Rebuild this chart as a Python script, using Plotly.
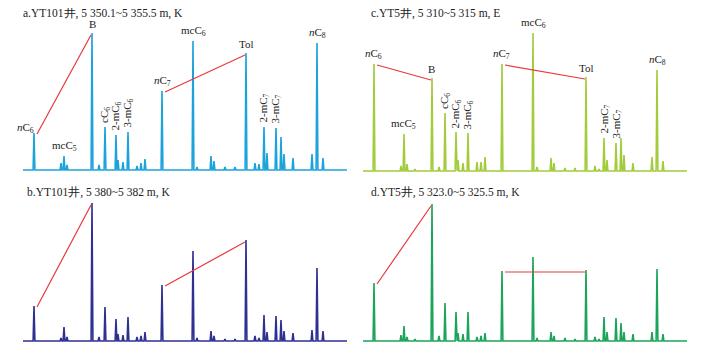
import plotly.graph_objects as go

# ---------------- data ----------------
# shared retention positions (relative units)
retention = [11, 38, 41, 44, 52, 69, 76, 82, 93, 95, 100, 105, 114, 118, 122,
             139, 170, 174, 188, 191, 202, 212, 223, 232, 236, 241, 244, 253,
             258, 261, 270, 289, 294, 300]

# relative abundance of each peak, per sample
height_a = [37, 7, 14, 5, 0, 137, 5, 43, 35, 10, 8, 38, 4, 7, 11,
            79, 129, 3, 14, 9, 3, 3, 117, 7, 6, 43, 17, 42, 33, 16, 12, 16, 127, 12]
height_b = [35, 3, 14, 4, 0, 138, 4, 34, 22, 7, 6, 24, 4, 5, 9,
            56, 90, 3, 10, 5, 2, 2, 101, 5, 3, 26, 9, 25, 21, 10, 8, 11, 73, 10]
height_c = [107, 5, 37, 7, 2, 93, 4, 58, 39, 11, 8, 38, 9, 9, 14,
            107, 138, 4, 13, 8, 3, 3, 94, 5, 2, 33, 11, 28, 33, 16, 8, 14, 101, 10]
height_d = [58, 6, 15, 4, 2, 137, 5, 38, 29, 8, 7, 29, 4, 5, 8,
            70, 84, 3, 9, 5, 3, 2, 71, 4, 2, 24, 9, 23, 18, 9, 7, 9, 72, 7]

panel_titles = ["a.YT101井, 5 350.1~5 355.5 m, K",
                "b.YT101井, 5 380~5 382 m, K",
                "c.YT5井, 5 310~5 315 m, E",
                "d.YT5井, 5 323.0~5 325.5 m, K"]

# labelled peaks: (index in retention list, label, rotated?)
peak_labels = [(0, "<i>n</i>C<sub>6</sub>", False),
               (2, "mcC<sub>5</sub>", False),
               (5, "B", False),
               (7, "cC<sub>6</sub>", True),
               (8, "2-mC<sub>6</sub>", True),
               (11, "3-mC<sub>6</sub>", True),
               (15, "<i>n</i>C<sub>7</sub>", False),
               (16, "mcC<sub>6</sub>", False),
               (22, "Tol", False),
               (25, "2-mC<sub>7</sub>", True),
               (27, "3-mC<sub>7</sub>", True),
               (32, "<i>n</i>C<sub>8</sub>", False)]

# ratio lines: nC6 -> B, nC7 -> Tol
ratio_pairs = [(0, 5), (15, 22)]

colors = ["#1ca3dc", "#2e3192", "#a3cc3d", "#1ba45a"]
red = "#e8383d"

OFF = 8  # page body margin
W, H = 708 - 2 * OFF, 357 - 2 * OFF
# panel frames in page pixels: (left, right, top, bottom)
frames = [(23, 347, 20, 172), (23, 347, 191, 343),
          (363, 687, 21, 173), (363, 687, 191, 343)]
heights = [height_a, height_b, height_c, height_d]
labelled = [True, False, True, False]
title_pos = [(21, 14), (25, 192), (369, 14), (369, 192)]

fig = go.Figure()
layout = dict(width=W, height=H, autosize=False,
              margin=dict(l=0, r=0, t=0, b=0),
              paper_bgcolor="white", plot_bgcolor="white",
              showlegend=False)
annotations = []
FONT = "Liberation Serif, Times New Roman, serif"
X_RANGE = [0, 324]
Y_RANGE = [-2, 150]
HALF_W = 0.9

for i, (fr, hts, col) in enumerate(zip(frames, heights, colors)):
    n = i + 1
    xa = "x" if n == 1 else f"x{n}"
    ya = "y" if n == 1 else f"y{n}"
    l, r, t, b = [v - OFF for v in fr]
    layout["xaxis" if n == 1 else f"xaxis{n}"] = dict(
        domain=[l / W, r / W], range=X_RANGE, visible=False, anchor=ya)
    layout["yaxis" if n == 1 else f"yaxis{n}"] = dict(
        domain=[(H - b) / H, (H - t) / H], range=Y_RANGE, visible=False, anchor=xa)
    # build spike trace from peaks
    xs, ys = [X_RANGE[0]], [0]
    for rt, h in zip(retention, hts):
        if h <= 0:
            continue
        xs += [rt - HALF_W, rt, rt + HALF_W]
        ys += [0, h, 0]
    xs.append(X_RANGE[1])
    ys.append(0)
    fig.add_trace(go.Scatter(x=xs, y=ys, mode="lines", xaxis=xa, yaxis=ya,
                             line=dict(color=col, width=1.6), hoverinfo="skip"))
    # ratio lines
    for p, q in ratio_pairs:
        fig.add_trace(go.Scatter(
            x=[retention[p] + 3, retention[q] - 1],
            y=[hts[p] - 1, hts[q] - 2], mode="lines", xaxis=xa, yaxis=ya,
            line=dict(color=red, width=1.2), hoverinfo="skip"))
    # title
    tx, ty = title_pos[i]
    annotations.append(dict(text=panel_titles[i], xref="paper", yref="paper",
                            x=(tx - OFF) / W, y=1 - (ty - OFF) / H,
                            xanchor="left", yanchor="middle",
                            showarrow=False, font=dict(family=FONT, size=11.5, color="#222")))
    if labelled[i]:
        for idx, txt, rot in peak_labels:
            ann = dict(text=txt, x=retention[idx], y=hts[idx], xref=xa, yref=ya,
                       showarrow=False, font=dict(family=FONT, size=11, color="#222"),
                       yanchor="bottom", xanchor="center", yshift=1)
            if rot:
                ann["textangle"] = -90
                ann["yshift"] = 2
            if i == 0 and idx == 0:
                # label sits to the left of the peak so the ratio line stays clear
                ann["xanchor"] = "right"
                ann["xshift"] = 2
                ann["yshift"] = -4
            annotations.append(ann)

layout["annotations"] = annotations
fig.update_layout(**layout)
fig.write_html("out.html")
